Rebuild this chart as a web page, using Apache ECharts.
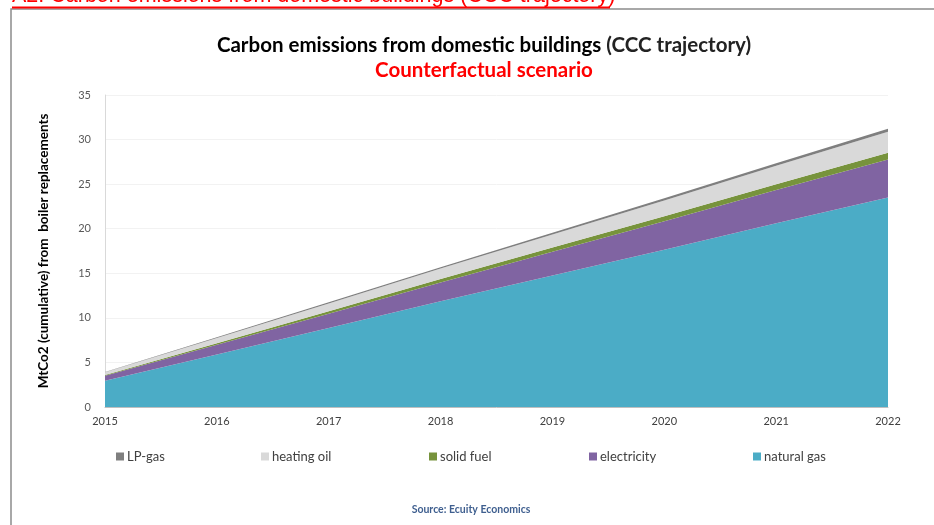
<!DOCTYPE html>
<html>
<head>
<meta charset="utf-8">
<script src="https://cdn.jsdelivr.net/npm/echarts@6/dist/echarts.min.js"></script>
<style>html,body{margin:0;padding:0;background:#fff;}#c{width:934px;height:525px;}</style>
</head>
<body>
<div id="c"></div>
<script>
var years = ['2015','2016','2017','2018','2019','2020','2021','2022'];
var naturalGas = [2.95, 5.9, 8.85, 11.85, 14.75, 17.65, 20.6, 23.5];
var electricity = [0.55, 1.07, 1.6, 2.13, 2.67, 3.2, 3.73, 4.27];
var solidFuel = [0.09, 0.18, 0.28, 0.37, 0.46, 0.55, 0.65, 0.74];
var heatingOil = [0.3, 0.59, 0.89, 1.18, 1.48, 1.77, 2.07, 2.37];
var lpGas = [0.05, 0.08, 0.12, 0.16, 0.2, 0.24, 0.28, 0.32];
var yTicks = [0, 5, 10, 15, 20, 25, 30, 35];

var FONT = 'Lato';
var colors = {
  'natural gas': '#4bacc6',
  'electricity': '#8064a2',
  'solid fuel': '#77933c',
  'heating oil': '#d9d9d9',
  'LP-gas': '#7f7f7f'
};
function mk(name, data) {
  return {
    name: name, type: 'line', stack: 'total', data: data,
    symbol: 'none', smooth: false,
    lineStyle: { width: 0 },
    areaStyle: { color: colors[name], opacity: 1 },
    itemStyle: { color: colors[name] },
    emphasis: { disabled: true }
  };
}
var legendPos = [
  ['LP-gas', 111], ['heating oil', 256], ['solid fuel', 424], ['electricity', 584], ['natural gas', 748]
];
var legends = legendPos.map(function (p) {
  return {
    data: [p[0]], left: p[1], top: 445, itemWidth: 8, itemHeight: 8, itemGap: 0,
    icon: 'rect',
    textStyle: { fontFamily: FONT, fontSize: 13, color: '#404040', padding: [0, 0, 0, -2] },
    selectedMode: false
  };
});

var chart = echarts.init(document.getElementById('c'), null, { renderer: 'canvas' });
chart.setOption({
  animation: false,
  backgroundColor: '#fff',
  title: [{
    text: '{b|Carbon emissions from domestic buildings} {n|(CCC trajectory)}',
    left: 479, top: 30, textAlign: 'center',
    textStyle: {
      rich: {
        b: { fontFamily: FONT, fontSize: 20.5, fontWeight: 'bold', color: '#000' },
        n: { fontFamily: FONT, fontSize: 20.5, color: '#222' }
      }
    }
  }, {
    text: 'Counterfactual scenario',
    left: 479, top: 55, textAlign: 'center',
    textStyle: { fontFamily: FONT, fontSize: 20.5, fontWeight: 'bold', color: '#ff0000' }
  }, {
    text: 'Source: Ecuity Economics',
    left: 466, top: 499, textAlign: 'center',
    textStyle: { fontFamily: FONT, fontSize: 10.5, fontWeight: 'bold', color: '#3f5f8f' }
  }],
  legend: legends,
  grid: { left: 105, right: 46, top: 95, bottom: 118 },
  xAxis: {
    type: 'category', data: years, boundaryGap: false,
    axisLine: { lineStyle: { color: '#bfbfbf' } },
    axisTick: { show: false },
    axisLabel: { fontFamily: FONT, fontSize: 11, color: '#404040', margin: 9 },
    splitLine: { show: false }
  },
  yAxis: {
    type: 'value', min: 0, max: 35, interval: 5,
    name: 'MtCo2 (cumulative) from  boiler replacements',
    nameLocation: 'middle', nameRotate: 90, nameGap: 54,
    nameTextStyle: { fontFamily: FONT, fontSize: 13.5, fontWeight: 'bold', color: '#000' },
    axisLine: { show: true, lineStyle: { color: '#d9d9d9' } },
    axisTick: { show: false },
    axisLabel: { fontFamily: FONT, fontSize: 11, color: '#595959', margin: 14 },
    splitLine: { show: true, lineStyle: { color: '#f2f2f2' } }
  },
  series: [
    mk('natural gas', naturalGas),
    mk('electricity', electricity),
    mk('solid fuel', solidFuel),
    mk('heating oil', heatingOil),
    mk('LP-gas', lpGas)
  ],
  graphic: [
    { type: 'rect', shape: { x: 11, y: 9, width: 940, height: 530 }, style: { fill: 'none', stroke: '#8c8c8c', lineWidth: 1.5 }, silent: true },
    { type: 'text', x: 12, y: 7, style: { text: 'A2. Carbon emissions from domestic buildings (CCC trajectory)', fontFamily: 'Liberation Sans', fontSize: 21.5, fill: '#ff0000', textVerticalAlign: 'bottom', textAlign: 'left' }, silent: true },
    { type: 'line', shape: { x1: 12, y1: 7.5, x2: 610, y2: 7.5 }, style: { stroke: '#ff0000', lineWidth: 2 }, silent: true }
  ]
});
</script>
</body>
</html>
